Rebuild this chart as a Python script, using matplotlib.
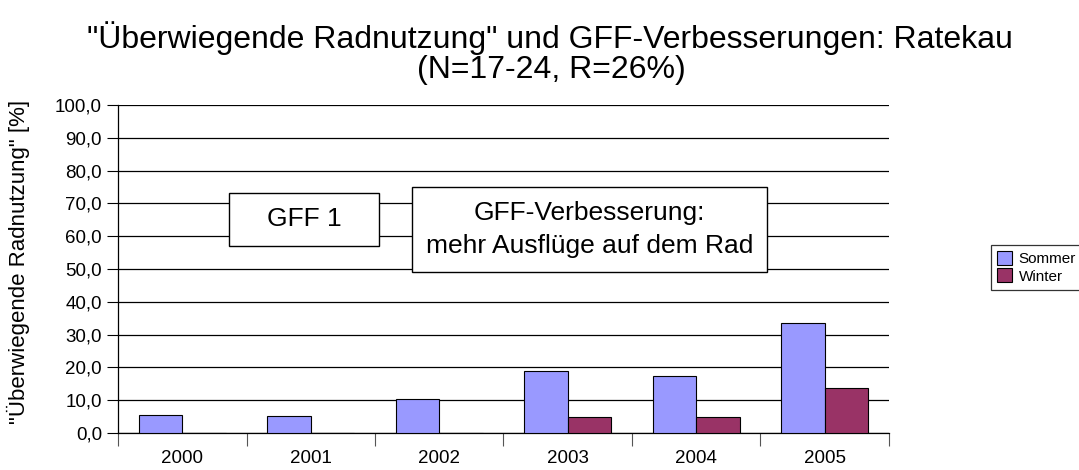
import numpy as np
import matplotlib
matplotlib.use("Agg")
import matplotlib.pyplot as plt
from matplotlib.ticker import FuncFormatter
from matplotlib.patches import Rectangle

plt.rcParams["font.family"] = ["Liberation Sans", "DejaVu Sans"]

years = ["2000", "2001", "2002", "2003", "2004", "2005"]
sommer = [5.5, 5.3, 10.5, 19.0, 17.4, 33.5]
winter = [0.0, 0.0, 0.0, 5.0, 4.8, 13.6]
series_names = ["Sommer", "Winter"]
colors = ["#9999FF", "#993366"]

W, H = 1079, 470
fig = plt.figure(figsize=(W / 100, H / 100), dpi=100)
ax = fig.add_axes([118 / W, 1 - 433 / H, 771 / W, 328 / H])

x = np.arange(len(years))
bw = 0.34
ax.bar(x - bw / 2, sommer, bw, color=colors[0], edgecolor="black", linewidth=0.8,
       label=series_names[0], zorder=3)
ax.bar(x + bw / 2, winter, bw, color=colors[1], edgecolor="black", linewidth=0.8,
       label=series_names[1], zorder=3)

ax.set_xlim(-0.5, len(years) - 0.5)
ax.set_ylim(0, 100)
ax.set_yticks(np.arange(0, 101, 10))
ax.yaxis.set_major_formatter(FuncFormatter(lambda v, p: f"{v:.1f}".replace(".", ",")))
ax.grid(axis="y", color="black", linewidth=0.9, zorder=0)
ax.set_axisbelow(True)

ax.set_xticks(np.arange(-0.5, len(years), 1.0))
ax.set_xticklabels([])
ax.set_xticks(x, minor=True)
ax.set_xticklabels(years, minor=True)
ax.tick_params(axis="x", which="major", direction="out", length=9, width=0.8, color="#555555")
ax.tick_params(axis="x", which="minor", length=0, pad=12.5, labelsize=13.5)
ax.tick_params(axis="y", direction="out", length=8, width=0.8, pad=3.5, labelsize=13.5)

for s in ["top", "right"]:
    ax.spines[s].set_visible(False)
ax.spines["left"].set_linewidth(0.9)
ax.spines["bottom"].set_linewidth(0.9)

fig.text(18 / W, 1 - 262 / H, "\"Überwiegende Radnutzung\" [%]", rotation=90,
         ha="center", va="center", fontsize=16)

fig.text(550 / W, 1 - 38 / H, "\"Überwiegende Radnutzung\" und GFF-Verbesserungen: Ratekau",
         ha="center", va="center", fontsize=23)
fig.text(551 / W, 1 - 70 / H, "(N=17-24, R=26%)", ha="center", va="center", fontsize=23)

# annotation boxes
boxes = [
    (229, 193, 379, 246, "GFF 1"),
    (412, 187, 767, 272, "GFF-Verbesserung:\nmehr Ausflüge auf dem Rad"),
]
for x0, y0, x1, y1, txt in boxes:
    fig.patches.append(Rectangle((x0 / W, 1 - y1 / H), (x1 - x0) / W, (y1 - y0) / H,
                                 transform=fig.transFigure, facecolor="white",
                                 edgecolor="black", linewidth=1, zorder=5))
    fig.text((x0 + x1) / 2 / W, 1 - (y0 + y1) / 2 / H, txt, ha="center", va="center",
             fontsize=19, linespacing=1.5, zorder=6)

leg = fig.legend(loc="upper left", bbox_to_anchor=(991 / W, 1 - 245 / H), fontsize=11,
                 frameon=True, fancybox=False, handlelength=1.0, handleheight=1.0,
                 handletextpad=0.4, borderpad=0.4, labelspacing=0.15, borderaxespad=0)
leg.get_frame().set_edgecolor("black")
leg.get_frame().set_linewidth(0.9)

fig.savefig("out.png", dpi=100)
